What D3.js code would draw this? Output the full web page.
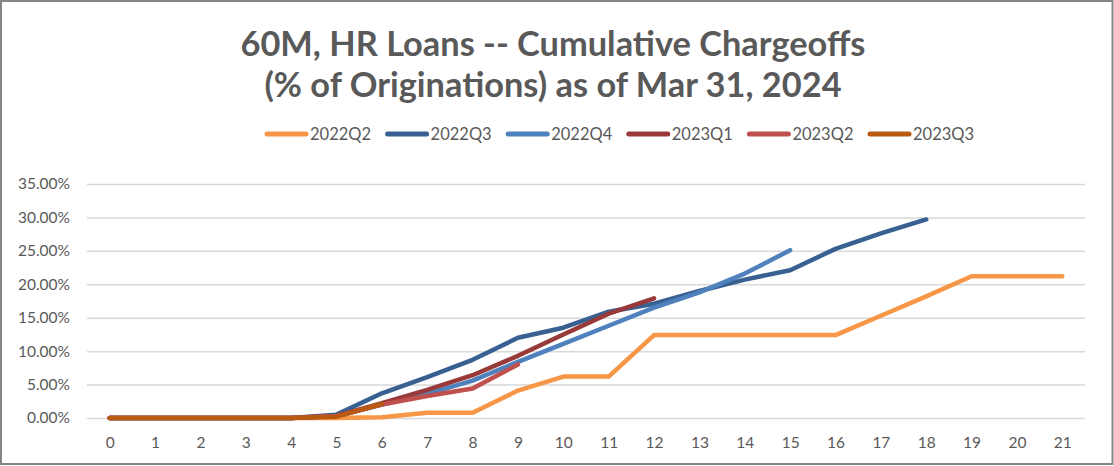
<!DOCTYPE html>
<html>
<head>
<meta charset="utf-8">
<script src="https://cdn.jsdelivr.net/npm/d3@7"></script>
<style>
  html, body { margin: 0; padding: 0; background: #fff; }
  svg { display: block; }
  text { font-family: Lato, "Open Sans", sans-serif; }
</style>
</head>
<body>
<svg id="chart" width="1114" height="466"></svg>
<script>
// ---- data ----
const categories = [0,1,2,3,4,5,6,7,8,9,10,11,12,13,14,15,16,17,18,19,20,21];
const seriesNames = ["2022Q2","2022Q3","2022Q4","2023Q1","2023Q2","2023Q3"];
const s2022Q2 = [0,0,0,0,0,0,0.1,0.8,0.8,4.1,6.2,6.2,12.4,12.4,12.4,12.4,12.4,15.3,18.2,21.2,21.2,21.2];
const s2022Q3 = [0,0,0,0,0,0.5,3.7,6.1,8.7,12.0,13.5,15.9,17.1,19.0,20.7,22.1,25.3,27.6,29.7];
const s2022Q4 = [0,0,0,0,0,0.3,2.0,3.6,5.6,8.4,11.1,13.8,16.5,18.8,21.6,25.1];
const s2023Q1 = [0,0,0,0,0,0.3,2.2,4.2,6.4,9.3,12.5,15.6,17.9];
const s2023Q2 = [0,0,0,0,0,0.3,2.0,3.3,4.4,8.0];
const s2023Q3 = [0,0,0,0,0,0.2,2.1];
const yTicks = [0,5,10,15,20,25,30,35];
const titleLines = ["60M, HR Loans -- Cumulative Chargeoffs", "(% of Originations) as of Mar 31, 2024"];
const colors = ["#F79646","#386192","#4F81BD","#983A3A","#C0504D","#B85A12"];

const seriesValues = [s2022Q2, s2022Q3, s2022Q4, s2023Q1, s2023Q2, s2023Q3];

// ---- layout ----
const W = 1114, H = 466;
const plot = { left: 87, right: 1085, top: 184, bottom: 418 };
const svg = d3.select("#chart");

svg.append("rect").attr("x", 1).attr("y", 1).attr("width", W - 2.5).attr("height", H - 3)
  .attr("fill", "#fff").attr("stroke", "#858585").attr("stroke-width", 2);

const x = d3.scalePoint().domain(categories).range([plot.left, plot.right]).padding(0.5);
const y = d3.scaleLinear().domain([0, 35]).range([plot.bottom, plot.top]);

// gridlines
const yAxis = d3.axisLeft(y).tickValues(yTicks)
  .tickSize(-(plot.right - plot.left))
  .tickPadding(17)
  .tickFormat(d => d.toFixed(2) + "%");
const gy = svg.append("g").attr("transform", `translate(${plot.left},0)`).call(yAxis);
gy.select(".domain").remove();
gy.selectAll(".tick line").attr("stroke", "#d9d9d9").attr("stroke-width", 1.5);
gy.selectAll(".tick text").attr("fill", "#595959").style("font-size", "15.5px");

const xAxis = d3.axisBottom(x).tickSize(0).tickPadding(19);
const gx = svg.append("g").attr("transform", `translate(0,${plot.bottom})`).call(xAxis);
gx.select(".domain").remove();
gx.selectAll(".tick text").attr("fill", "#595959").style("font-size", "15.5px");

// lines
const line = d3.line().x((d, i) => x(categories[i])).y(d => y(d));
seriesValues.forEach((vals, k) => {
  svg.append("path").datum(vals)
    .attr("d", line)
    .attr("fill", "none")
    .attr("stroke", colors[k])
    .attr("stroke-width", 4.5)
    .attr("stroke-linejoin", "round")
    .attr("stroke-linecap", "round");
});

// title
const title = svg.append("g");
titleLines.forEach((t, i) => {
  title.append("text")
    .attr("x", 553).attr("y", 56 + i * 41)
    .attr("text-anchor", "middle")
    .attr("fill", "#595959")
    .style("font-weight", "bold")
    .style("font-size", "30px")
    .text(t);
});
// fit first line width to ~625px
const t0 = title.select("text").node();
const w0 = t0.getComputedTextLength();
const fs = 30 * 625 / w0;
title.selectAll("text").style("font-size", fs + "px");

// legend
const legend = svg.append("g");
seriesNames.forEach((n, i) => {
  const lx = 265 + i * 120.6;
  const g = legend.append("g").attr("transform", `translate(${lx},134)`);
  g.append("line").attr("x1", 2).attr("x2", 41).attr("y1", 0).attr("y2", 0)
    .attr("stroke", colors[i]).attr("stroke-width", 5).attr("stroke-linecap", "round");
  g.append("text").attr("x", 45).attr("y", 6)
    .attr("fill", "#595959").style("font-size", "16.5px").text(n);
});
</script>
</body>
</html>
